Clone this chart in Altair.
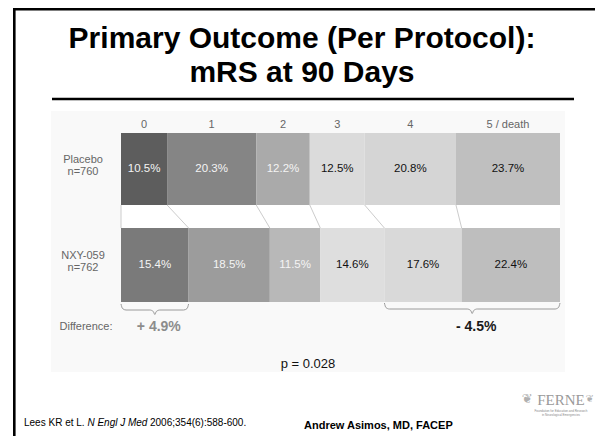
import altair as alt
import pandas as pd

# ---------------- data ----------------
categories = ["0", "1", "2", "3", "4", "5 / death"]
placebo = [10.5, 20.3, 12.2, 12.5, 20.8, 23.7]
nxy = [15.4, 18.5, 11.5, 14.6, 17.6, 22.4]
group_names = ["Placebo", "NXY-059"]
group_n = ["n=760", "n=762"]
placebo_fill = ["#5d5d5d", "#858585", "#aaaaaa", "#dbdbdb", "#d5d5d5", "#bfbfbf"]
nxy_fill = ["#7a7a7a", "#9c9c9c", "#b8b8b8", "#dedede", "#d9d9d9", "#bebebe"]
title_lines = ["Primary Outcome (Per Protocol):", "mRS at 90 Days"]
p_text = "p = 0.028"
diff_label = "Difference:"
cite_a = "Lees KR et L."
cite_b = "N Engl J Med"
cite_c = "2006;354(6):588-600."
author = "Andrew Asimos, MD, FACEP"
logo = "FERNE"
logo_tag = ["Foundation for Education and Research", "in Neurological Emergencies"]

FONT = "Liberation Sans"
W, H = 587, 428
PX = 100 / 439.0  # percent per pixel of the bar scale

xscale = alt.Scale(domain=[0, 100], range=[113, 552])
yid = alt.Scale(domain=[0, H], range=[0, H])


def segs(group, vals):
    rows, c = [], 0.0
    for i, (cat, v) in enumerate(zip(categories, vals)):
        rows.append(dict(group=group, cat=cat, idx=i, start=c, end=c + v,
                         mid=c + v / 2, label=f"{v}%", key=f"{group}|{cat}"))
        c += v
    return rows


seg_df = pd.DataFrame(segs(group_names[0], placebo) + segs(group_names[1], nxy))
keys = list(seg_df["key"])
fills = placebo_fill + nxy_fill
color = alt.Color("key:N", scale=alt.Scale(domain=keys, range=fills), legend=None)

base = alt.Chart(seg_df)


def bar_layer(group, y0, y1):
    g = base.transform_filter(alt.datum.group == group)
    rect = g.mark_rect().encode(
        x=alt.X("start:Q", scale=xscale, axis=None),
        x2="end:Q",
        y=alt.value(y0), y2=alt.value(y1), color=color)
    yc = (y0 + y1) / 2
    tw = g.transform_filter(alt.datum.idx < 3).mark_text(
        font=FONT, fontSize=11.5, color="#f4f4f4", baseline="middle").encode(
        x=alt.X("mid:Q", scale=xscale, axis=None), y=alt.value(yc), text="label:N")
    tb = g.transform_filter(alt.datum.idx >= 3).mark_text(
        font=FONT, fontSize=11.5, color="#111111", baseline="middle").encode(
        x=alt.X("mid:Q", scale=xscale, axis=None), y=alt.value(yc), text="label:N")
    return rect + tw + tb


bars_p = bar_layer(group_names[0], 125, 197)
bars_n = bar_layer(group_names[1], 220, 294)

cat_labels = base.transform_filter(alt.datum.group == group_names[0]).mark_text(
    font=FONT, fontSize=11, color="#666666", baseline="middle").encode(
    x=alt.X("mid:Q", scale=xscale, axis=None), y=alt.value(117), text="cat:N")

# connectors between the two bars
p_starts = list(seg_df[seg_df.group == group_names[0]]["start"])
n_starts = list(seg_df[seg_df.group == group_names[1]]["start"])
conn_df = pd.DataFrame({"top": p_starts, "bot": n_starts})
gap = alt.Chart(pd.DataFrame({"a": [0]})).mark_rect(color="white").encode(
    x=alt.value(113), x2=alt.value(552), y=alt.value(197), y2=alt.value(220))
connectors = alt.Chart(conn_df).mark_rule(color="#cccccc", strokeWidth=1).encode(
    x=alt.X("top:Q", scale=xscale, axis=None), x2="bot:Q",
    y=alt.value(197), y2=alt.value(220))

# braces
left_span = (0.0, nxy[0])
right_span = (sum(nxy[:4]), 100.0)
diff_left = round(nxy[0] - placebo[0], 1)
diff_right = round(sum(nxy[4:]) - sum(placebo[4:]), 1)


def brace(name, a, b, yt):
    m = (a + b) / 2
    pts = [(a, 0), (a + 1.5 * PX, 4.5), (a + 5 * PX, 6), (m - 5 * PX, 6), (m - 1.5 * PX, 7.5),
           (m, 10.5), (m + 1.5 * PX, 7.5), (m + 5 * PX, 6), (b - 5 * PX, 6), (b - 1.5 * PX, 4.5), (b, 0)]
    return [dict(brace=name, ord=i, bx=x, by=yt + dy) for i, (x, dy) in enumerate(pts)]


brace_df = pd.DataFrame(brace("L", *left_span, 296) + brace("R", *right_span, 295))
braces = alt.Chart(brace_df).mark_line(color="#9a9a9a", strokeWidth=1, interpolate="monotone").encode(
    x=alt.X("bx:Q", scale=xscale, axis=None),
    y=alt.Y("by:Q", scale=yid, axis=None),
    detail="brace:N", order="ord:Q")

diff_df = pd.DataFrame({
    "x": [sum(left_span) / 2, sum(right_span) / 2],
    "t": [f"+ {diff_left}%", f"- {abs(diff_right)}%"],
    "side": ["L", "R"]})
diff_l = alt.Chart(diff_df).transform_filter(alt.datum.side == "L").mark_text(
    font=FONT, fontSize=14, fontWeight="bold", color="#8c8c8c", baseline="middle", dx=4).encode(
    x=alt.X("x:Q", scale=xscale, axis=None), y=alt.value(319), text="t:N")
diff_r = alt.Chart(diff_df).transform_filter(alt.datum.side == "R").mark_text(
    font=FONT, fontSize=14, fontWeight="bold", color="#1a1a1a", baseline="middle", dx=4).encode(
    x=alt.X("x:Q", scale=xscale, axis=None), y=alt.value(319), text="t:N")


def txt(t, x, y, size=11, color="#000", weight="normal", align="center", baseline="middle",
        style="normal", font=FONT):
    return alt.Chart(pd.DataFrame({"t": [t]})).mark_text(
        font=font, fontSize=size, color=color, fontWeight=weight, align=align,
        baseline=baseline, fontStyle=style).encode(
        text="t:N", x=alt.value(x), y=alt.value(y))


def rule(x, x2, y, y2, color="#000", width=1):
    return alt.Chart(pd.DataFrame({"a": [0]})).mark_rule(color=color, strokeWidth=width).encode(
        x=alt.value(x), x2=alt.value(x2), y=alt.value(y), y2=alt.value(y2))


panel = alt.Chart(pd.DataFrame({"a": [0]})).mark_rect(color="#f9f9f9").encode(
    x=alt.value(43), x2=alt.value(557), y=alt.value(103), y2=alt.value(364))

layers = [
    panel,
    rule(6.3, 6.3, 0, H, width=2.6),
    rule(5, W, 1.3, 1.3, width=2.6),
    txt(title_lines[0], 294, 40, size=30, weight="bold", baseline="alphabetic"),
    txt(title_lines[1], 294, 74, size=30, weight="bold", baseline="alphabetic"),
    rule(44, 566, 91, 91, width=2.5),
    gap, connectors,
    bars_p, bars_n, cat_labels,
    txt(group_names[0], 75, 152, color="#666666"),
    txt(group_n[0], 75, 164, color="#666666"),
    txt(group_names[1], 75, 248, color="#666666"),
    txt(group_n[1], 75, 260, color="#666666"),
    braces, diff_l, diff_r,
    txt(diff_label, 78, 319, color="#666666"),
    txt(p_text, 300, 356, size=13, color="#111111"),
    txt(cite_a, 16, 415, size=10, align="left"),
    txt(cite_b, 79.4, 415, size=10, align="left", style="italic"),
    txt(cite_c, 142, 415, size=10, align="left"),
    txt(author, 296, 418, size=11, weight="bold", align="left"),
    txt(logo, 553, 392, size=15, color="#9a9a9a", font="Liberation Serif"),
    txt(logo_tag[0], 553, 403, size=3, color="#888888"),
    txt(logo_tag[1], 553, 407, size=3, color="#888888"),
    txt("\u2766", 519, 391, size=13, color="#b0b0b0", font="DejaVu Sans"),
    txt("\u2766", 582, 391, size=10, color="#b0b0b0", font="DejaVu Sans"),
]

chart = alt.layer(*layers).properties(
    width=W, height=H, autosize=alt.AutoSizeParams(type="none"), padding=0,
    background="white"
).configure_view(stroke=None)

chart.save("out.html", embed_options={"renderer": "svg", "actions": False})
